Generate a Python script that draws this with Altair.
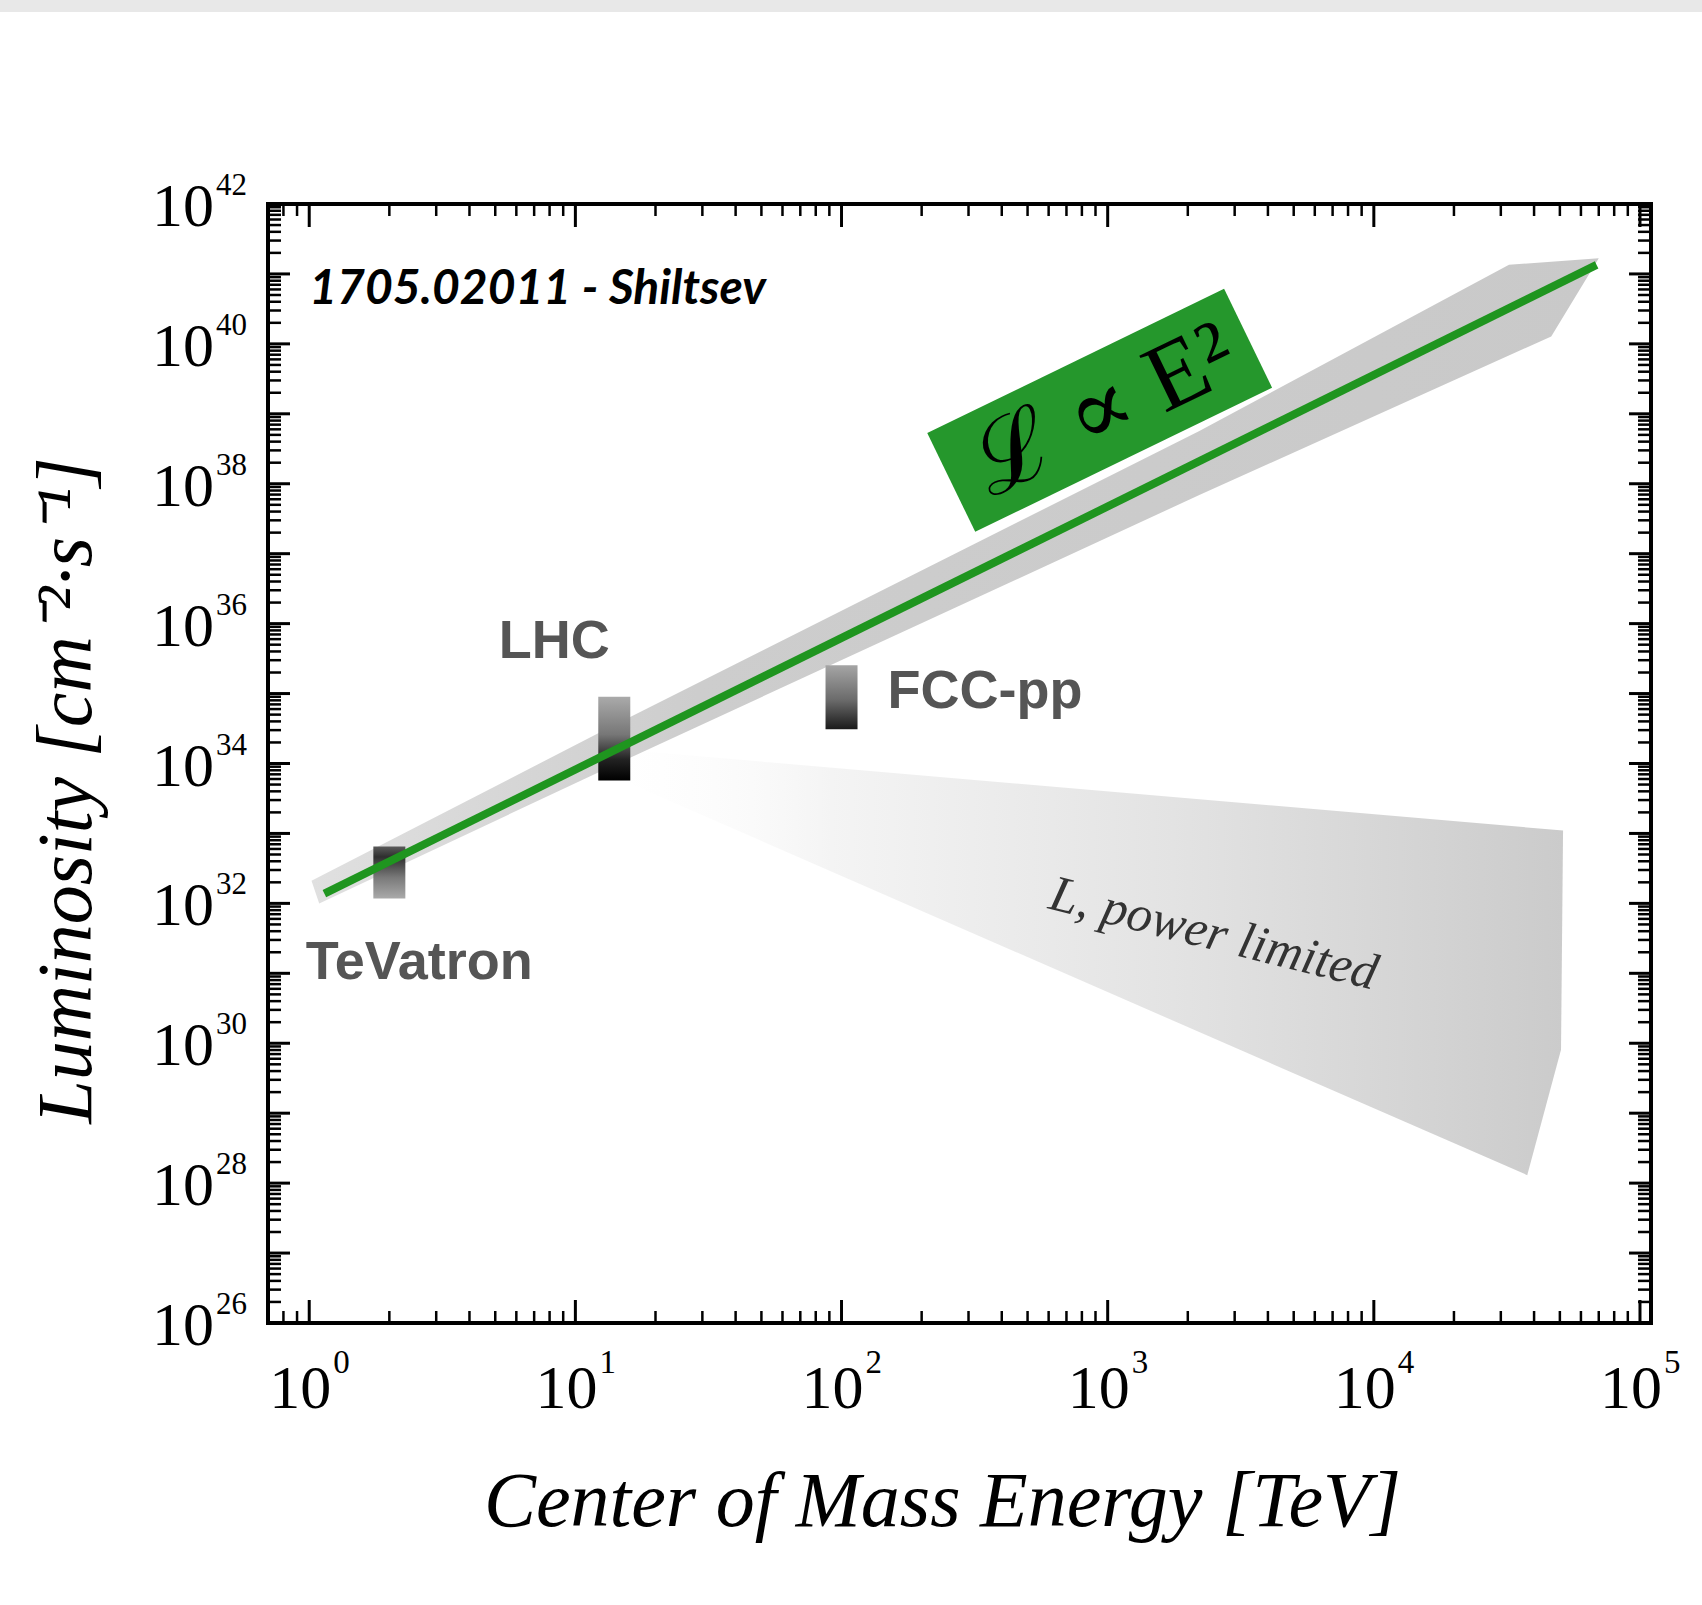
import altair as alt
import pandas as pd

W, H = 1383, 1119

# ---------------- data ----------------
x_label_exp = [0, 1, 2, 3, 4, 5]
y_label_exp = [26, 28, 30, 32, 34, 36, 38, 40, 42]

line_energy = [1.14, 68700.0]
line_lumi = [1.38e32, 1.35e41]

band_energy = [1.02, 14.0, 2210.0, 32200.0, 70000.0, 46400.0, 2210.0, 14.0, 1.09]
band_lumi = [2.1e32, 3.55e34, 5.7e38, 1.35e41, 1.67e41, 1.28e40, 6.9e37, 9.5e33, 1.0e32]

wedge_energy = [11.1, 51400.0, 50500.0, 37700.0, 11.1]
wedge_lumi = [1.74e34, 1.1e33, 8.1e29, 1.3e28, 9.5e33]

collider_names = ["TeVatron", "LHC", "FCC-pp"]
collider_energy = [2.0, 14.0, 100.0]
collider_lumi_lo = [1.17e32, 5.7e33, 3.1e34]
collider_lumi_hi = [6.5e32, 9.0e34, 2.54e35]
label_energy = [0.97, 5.15, 149.0]
label_lumi = [8.3e30, 3.25e35, 6.3e34]

box_energy = [933.0]
box_lumi = [1.12e39]

power_text_energy = [2500.0]
power_text_lumi = [3.6e31]

ref_energy = [1.0]
ref_lumi = [3.7e40]

x_major = [10.0 ** e for e in range(0, 6)]
x_minor = [k * 10.0 ** n for n in range(-1, 5) for k in range(2, 10) if 0.72 < k * 10.0 ** n < 1.1e5]
y_major = [10.0 ** e for e in range(26, 43)]
y_minor = [k * 10.0 ** n for n in range(26, 42) for k in range(2, 10)]

# ---------------- scales / axes ----------------
xs = alt.Scale(type="log", domain=[0.7, 1.1e5], nice=False, padding=0)
ys = alt.Scale(type="log", domain=[1e26, 1e42], nice=False, padding=0)

x_axis = alt.Axis(
    title="Center of Mass Energy [TeV]", labels=False, ticks=False, domain=False, grid=False,
    titleFont="Liberation Serif", titleFontSize=78, titleFontStyle="italic", titleFontWeight="normal",
    titleColor="black", titleX=674, titleY=202, titleAlign="center", titleBaseline="alphabetic",
    titleAngle=0,
)
y_axis = alt.Axis(
    title="Luminosity [cm\u207b\u00b2\u00b7s\u207b\u00b9]", labels=False, ticks=False, domain=False, grid=False,
    titleFont="Liberation Serif", titleFontSize=78, titleFontStyle="italic", titleFontWeight="normal",
    titleColor="black", titleX=-178, titleY=586, titleAlign="center", titleBaseline="alphabetic",
    titleAngle=270,
)


def X(f):
    return alt.X(f"{f}:Q", scale=xs, axis=x_axis)


def Y(f):
    return alt.Y(f"{f}:Q", scale=ys, axis=y_axis)


layers = []

# header strip
layers.append(
    alt.Chart(pd.DataFrame({"a": [0]})).mark_rect(color="#e8e8e8").encode(
        x=alt.value(-268), x2=alt.value(1702 - 268), y=alt.value(-204), y2=alt.value(-192)
    )
)

# power-limited wedge
wedge_df = pd.DataFrame({"E": wedge_energy, "L": wedge_lumi, "i": list(range(len(wedge_energy)))})
wedge_grad = alt.LinearGradient(
    gradient="linear", x1=0, x2=1, y1=0, y2=0,
    stops=[alt.GradientStop(color="rgba(255,255,255,0)", offset=0),
           alt.GradientStop(color="#f4f4f4", offset=0.25),
           alt.GradientStop(color="#e3e3e3", offset=0.6),
           alt.GradientStop(color="#cbcbcb", offset=1)],
)
layers.append(
    alt.Chart(wedge_df).mark_line(interpolate="linear-closed", fill=wedge_grad, strokeOpacity=0).encode(
        x=X("E"), y=Y("L"), order="i:Q"
    )
)

# band around the E^2 line
band_df = pd.DataFrame({"E": band_energy, "L": band_lumi, "i": list(range(len(band_energy)))})
band_grad = alt.LinearGradient(
    gradient="linear", x1=0, x2=1, y1=0, y2=0,
    stops=[alt.GradientStop(color="#e0e0e0", offset=0),
           alt.GradientStop(color="#cdcdcd", offset=0.3),
           alt.GradientStop(color="#c9c9c9", offset=1)],
)
layers.append(
    alt.Chart(band_df).mark_line(interpolate="linear-closed", fill=band_grad, strokeOpacity=0).encode(
        x=X("E"), y=Y("L"), order="i:Q"
    )
)

# collider boxes
grads = [
    [("#5a5a5a", 0), ("#2e2e2e", 0.2), ("#7a7a7a", 0.6), ("#aaaaaa", 1)],
    [("#aaaaaa", 0), ("#777777", 0.45), ("#222222", 0.75), ("#000000", 1)],
    [("#a5a5a5", 0), ("#6a6a6a", 0.55), ("#1a1a1a", 1)],
]
for i in range(3):
    dfc = pd.DataFrame({"E": [collider_energy[i]], "lo": [collider_lumi_lo[i]], "hi": [collider_lumi_hi[i]]})
    g = alt.LinearGradient(gradient="linear", x1=0, x2=0, y1=0, y2=1,
                           stops=[alt.GradientStop(color=c, offset=o) for c, o in grads[i]])
    layers.append(
        alt.Chart(dfc).mark_bar(width=32, fill=g).encode(x=X("E"), y=Y("hi"), y2="lo:Q")
    )

# green E^2 line
line_df = pd.DataFrame({"E": line_energy, "L": line_lumi})
layers.append(
    alt.Chart(line_df).mark_line(color="#1f951f", strokeWidth=8).encode(x=X("E"), y=Y("L"))
)

# green label box
box_df = pd.DataFrame({"E": box_energy, "L": box_lumi})
layers.append(
    alt.Chart(box_df).mark_point(
        shape="M-1,-0.333L1,-0.333L1,0.333L-1,0.333Z", size=108900, filled=True,
        color="#25972c", opacity=1, angle=334.1, strokeOpacity=0,
    ).encode(x=X("E"), y=Y("L"))
)
layers.append(
    alt.Chart(box_df).mark_text(
        text="\u2112 \u221d E\u00b2", angle=334.1, font="Liberation Serif, DejaVu Serif",
        fontSize=96, color="black", align="center", baseline="middle", dx=4, dy=2,
    ).encode(x=X("E"), y=Y("L"))
)

# collider names
lab_df = pd.DataFrame({"E": label_energy, "L": label_lumi, "name": collider_names})
layers.append(
    alt.Chart(lab_df).mark_text(
        font="Liberation Sans", fontWeight="bold", fontSize=54, color="#555555",
        align="left", baseline="alphabetic",
    ).encode(x=X("E"), y=Y("L"), text="name:N")
)

# power limited text
pt_df = pd.DataFrame({"E": power_text_energy, "L": power_text_lumi})
layers.append(
    alt.Chart(pt_df).mark_text(
        text="L, power limited", font="Liberation Serif", fontStyle="italic", fontSize=51,
        color="#333333", angle=14, align="center", baseline="middle",
    ).encode(x=X("E"), y=Y("L"))
)

# reference text
ref_df = pd.DataFrame({"E": ref_energy, "L": ref_lumi})
layers.append(
    alt.Chart(ref_df).mark_text(
        text="1705.02011 - Shiltsev", font="Lato", fontStyle="italic", fontWeight="bold",
        fontSize=48, color="black", align="left", baseline="alphabetic",
    ).encode(x=X("E"), y=Y("L"))
)


# ticks (inward, on all four sides)
def xticks(vals, length, width):
    d = pd.DataFrame({"v": vals})
    bot = alt.Chart(d).mark_rule(color="black", strokeWidth=width).encode(
        x=X("v"), y=alt.value(H), y2=alt.value(H - length))
    top = alt.Chart(d).mark_rule(color="black", strokeWidth=width).encode(
        x=X("v"), y=alt.value(0), y2=alt.value(length))
    return [bot, top]


def yticks(vals, length, width):
    d = pd.DataFrame({"v": vals})
    left = alt.Chart(d).mark_rule(color="black", strokeWidth=width).encode(
        y=Y("v"), x=alt.value(0), x2=alt.value(length))
    right = alt.Chart(d).mark_rule(color="black", strokeWidth=width).encode(
        y=Y("v"), x=alt.value(W), x2=alt.value(W - length))
    return [left, right]


layers += xticks(x_major, 23, 3)
layers += xticks(x_minor, 12, 2.5)
layers += yticks(y_major, 22, 3)
layers += yticks(y_minor, 13, 2.5)

# tick labels as 10 + superscript
xl = pd.DataFrame({"v": [10.0 ** e for e in x_label_exp], "e": [str(e) for e in x_label_exp]})
layers.append(
    alt.Chart(xl).mark_text(text="10", font="Liberation Serif", fontSize=62, color="black",
                            align="right", baseline="alphabetic", dx=22).encode(
        x=X("v"), y=alt.value(H + 85))
)
layers.append(
    alt.Chart(xl).mark_text(font="Liberation Serif", fontSize=33, color="black",
                            align="left", baseline="alphabetic", dx=24).encode(
        x=X("v"), y=alt.value(H + 50), text="e:N")
)
yl = pd.DataFrame({"v": [10.0 ** e for e in y_label_exp], "e": [str(e) for e in y_label_exp]})
layers.append(
    alt.Chart(yl).mark_text(text="10", font="Liberation Serif", fontSize=62, color="black",
                            align="right", baseline="alphabetic", dy=22).encode(
        y=Y("v"), x=alt.value(-54))
)
layers.append(
    alt.Chart(yl).mark_text(font="Liberation Serif", fontSize=31, color="black",
                            align="left", baseline="alphabetic", dy=-9).encode(
        y=Y("v"), x=alt.value(-52), text="e:N")
)

chart = alt.layer(*layers).properties(
    width=W, height=H,
    padding={"left": 268, "top": 204, "right": 51, "bottom": 282},
    autosize=alt.AutoSizeParams(type="none"),
    background="white",
).configure_view(stroke="black", strokeWidth=4)

chart.save("out.html", embed_options={"renderer": "svg", "actions": False})
